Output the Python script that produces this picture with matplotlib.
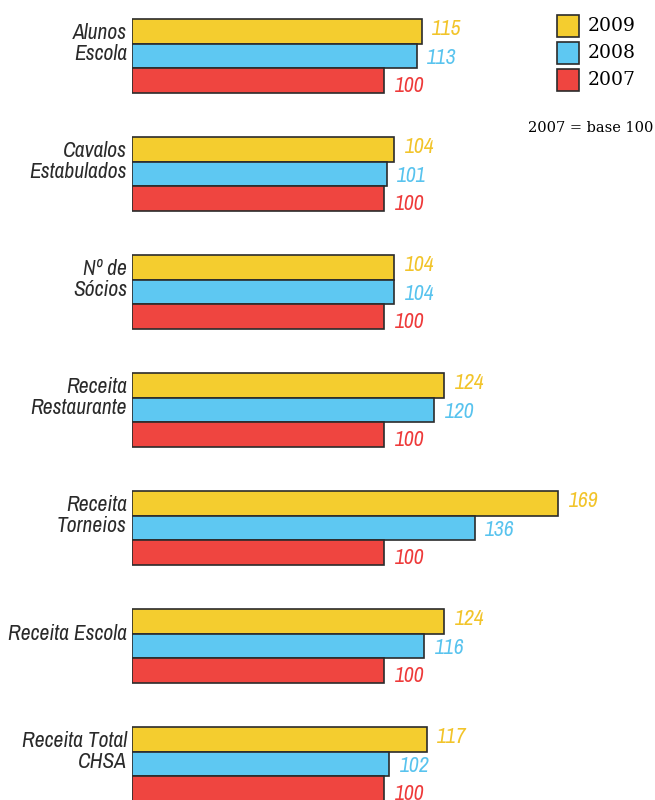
import matplotlib
matplotlib.use("Agg")
import matplotlib.pyplot as plt
from matplotlib.patches import Rectangle
from matplotlib import font_manager
from matplotlib.font_manager import FontProperties

categories = ["Alunos\nEscola", "Cavalos\nEstabulados", "Nº de\nSócios",
              "Receita\nRestaurante", "Receita\nTorneios", "Receita Escola",
              "Receita Total\nCHSA"]
v2009 = [115, 104, 104, 124, 169, 124, 117]
v2008 = [113, 101, 104, 120, 136, 116, 102]
v2007 = [100, 100, 100, 100, 100, 100, 100]
series_names = ["2009", "2008", "2007"]
note = "2007 = base 100"

colors = ["#F4CD2F", "#5EC8F2", "#EF4540"]
text_colors = ["#F2C42A", "#58C3EE", "#EE3A3A"]


def find_font():
    files = [f.fname for f in font_manager.fontManager.ttflist]
    prefs = [("narrow", "italic"), ("condensed", "oblique"), ("condensed", "italic"),
             ("narrow", "oblique")]
    for a, b in prefs:
        for fn in files:
            low = fn.lower()
            if a in low and b in low and "bold" not in low:
                return FontProperties(fname=fn)
    return FontProperties(family="DejaVu Sans", style="italic")


ital = find_font()

W, H = 655, 800
fig = plt.figure(figsize=(W / 100, H / 100), dpi=100)
ax_left = 132 / W
ax = fig.add_axes([ax_left, 0, 1 - ax_left, 1])
px_per_unit = 2.52
ax.set_xlim(0, (W - 132) / px_per_unit)
group_px = 118.0
top_px = 19.0
ax.set_ylim((H - top_px) / group_px, -top_px / group_px)
ax.axis("off")

bh = 24.5 / group_px
series = [v2009, v2008, v2007]
label_dy = [-2 / group_px, 2 / group_px, 6 / group_px]
for i, cat in enumerate(categories):
    for k, vals in enumerate(series):
        y0 = i + k * bh
        ax.barh(y0, vals[i], height=bh, align="edge", color=colors[k],
                edgecolor="#2b2b2b", linewidth=1.2, zorder=2)
        fp = ital.copy()
        fp.set_size(15.5)
        ax.text(vals[i] + 4.2, y0 + bh / 2 + label_dy[k], f"{vals[i]}",
                color=text_colors[k], fontproperties=fp,
                ha="left", va="center", zorder=3)
    fp = ital.copy()
    fp.set_size(15.5)
    ax.text(-2.0, i + bh, cat, ha="right", va="center",
            fontproperties=fp, color="#2a2a2a",
            linespacing=1.1, clip_on=False)

# legend
for k, name in enumerate(series_names):
    y = 15 + k * 27
    fig.patches.append(Rectangle((557 / W, 1 - (y + 22) / H), 22 / W, 22 / H,
                                 transform=fig.transFigure, facecolor=colors[k],
                                 edgecolor="#2b2b2b", linewidth=1.2))
    fig.text(588 / W, 1 - (y + 11) / H, name, ha="left", va="center",
             fontsize=13.5, family="DejaVu Serif", color="#000000")
fig.text(653 / W, 1 - 128 / H, note, ha="right", va="center", fontsize=10.5,
         family="DejaVu Serif", color="#000000")

fig.savefig("out.png", dpi=100)
